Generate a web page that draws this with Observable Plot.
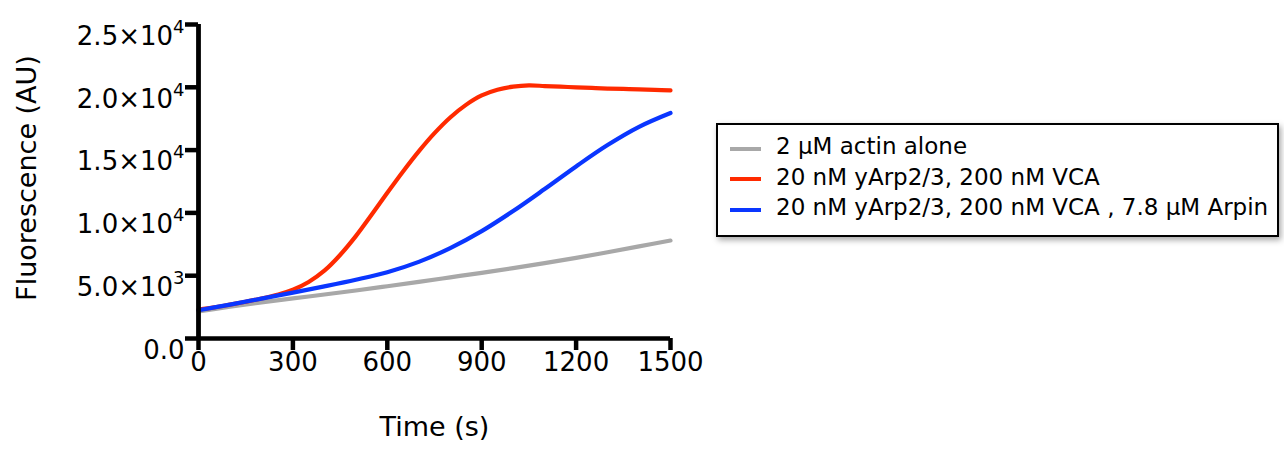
<!DOCTYPE html>
<html>
<head>
<meta charset="utf-8">
<script src="https://cdn.jsdelivr.net/npm/d3@7"></script>
<script src="https://cdn.jsdelivr.net/npm/@observablehq/plot@0.6"></script>
<style>
  html, body { margin: 0; padding: 0; background: #fff; }
  #wrap { position: relative; width: 1284px; height: 452px; font-family: "DejaVu Sans", sans-serif; }
  #legend { position: absolute; left: 716px; top: 123px; width: 563px; height: 114px; box-sizing: border-box;
            border: 2px solid #000; background: #fff; box-shadow: 2px 3px 6px rgba(0,0,0,0.35); }
  .sw { position: absolute; left: 12px; width: 31px; height: 4px; }
  .lt { position: absolute; left: 58px; font-size: 23px; line-height: 30px; white-space: nowrap; color: #000; }
</style>
</head>
<body>
<div id="wrap"></div>
<script>
// ---- data ----
const times100 = [0,100,200,300,400,500,600,700,800,900,1000,1100,1200,1300,1400,1500];
const times50 = [0,50,100,150,200,250,300,350,400,450,500,550,600,650,700,750,800,850,900,950,1000,1050,1100,1150,1200,1250,1300,1350,1400,1450,1500];
const actinAlone = [2150,2530,2870,3190,3500,3820,4160,4510,4870,5230,5600,6000,6420,6870,7330,7800];
const arpVCA = [2300,2480,2700,2930,3180,3480,3880,4500,5400,6650,8150,9850,11600,13300,14900,16350,17600,18600,19350,19800,20050,20150,20100,20050,20000,19950,19900,19870,19830,19790,19750];
const arpVCAArpin = [2250,2700,3170,3650,4150,4680,5280,6100,7200,8550,10150,11900,13700,15400,16850,17950];

const seriesNames = ["2 μM actin alone", "20 nM yArp2/3, 200 nM VCA", "20 nM yArp2/3, 200 nM VCA , 7.8 μM Arpin"];
const seriesColors = ["#a8a8a8", "#ff2a00", "#0a36ff"];
const seriesValues = [actinAlone, arpVCA, arpVCAArpin];
const seriesTimes = [times100, times50, times100];

const xTicks = [0,300,600,900,1200,1500];
const yTicks = [0,5000,10000,15000,20000,25000];
const yTickLabels = ["0.0","5.0×10^3","1.0×10^4","1.5×10^4","2.0×10^4","2.5×10^4"];
const xLabel = "Time (s)";
const yLabel = "Fluorescence (AU)";

// ---- table ----
const table = [];
seriesValues.forEach((vals, si) => {
  vals.forEach((v, i) => table.push({series: seriesNames[si], t: seriesTimes[si][i], v}));
});

const chart = Plot.plot({
  width: 1284,
  height: 452,
  marginLeft: 198,
  marginRight: 614,
  marginTop: 24,
  marginBottom: 114,
  style: {fontFamily: "DejaVu Sans, sans-serif", background: "white", color: "black"},
  x: {domain: [0, 1500]},
  y: {domain: [0, 25000]},
  color: {domain: seriesNames, range: seriesColors},
  marks: [
    Plot.line(table, {x: "t", y: "v", stroke: "series", z: "series", curve: "catmull-rom", strokeWidth: 4.2}),
    Plot.ruleY([0], {stroke: "black", strokeWidth: 4.5}),
    Plot.ruleX([0], {stroke: "black", strokeWidth: 4.8}),
    Plot.axisX(xTicks, {tickSize: 12, tickPadding: 2, strokeWidth: 4.5, fontSize: 26, label: null, tickFormat: d => String(d)}),
    Plot.axisY(yTicks, {tickSize: 13, tickPadding: 1, strokeWidth: 4.5, fontSize: 26, label: null,
      tickFormat: d => yTickLabels[yTicks.indexOf(d)]}),
    Plot.text([xLabel], {frameAnchor: "bottom", text: d => d, textAnchor: "middle", lineAnchor: "middle", fontSize: 27, dy: 88.4}),
    Plot.text([yLabel], {frameAnchor: "left", text: d => d, textAnchor: "middle", lineAnchor: "middle", rotate: -90, fontSize: 27, dx: -171, dy: -3.5})
  ]
});

// superscripts for the y tick labels
const NS = "http://www.w3.org/2000/svg";
chart.querySelectorAll('g[aria-label="y-axis tick label"] text').forEach(t => {
  const parts = t.textContent.split("^");
  if (parts.length > 1) {
    t.textContent = parts[0];
    const ts = document.createElementNS(NS, "tspan");
    ts.setAttribute("dy", "-12");
    ts.setAttribute("font-size", "18");
    ts.textContent = parts[1];
    t.appendChild(ts);
  }
  t.setAttribute("dy", "0.46em");
});

const wrap = document.getElementById("wrap");
wrap.appendChild(chart);

// legend
const legend = document.createElement("div");
legend.id = "legend";
const rowSwatchTop = [22, 52, 83];
const rowTextTop = [6.1, 37.1, 67.1];
seriesNames.forEach((name, i) => {
  const sw = document.createElement("div");
  sw.className = "sw";
  sw.style.top = rowSwatchTop[i] + "px";
  sw.style.background = seriesColors[i];
  legend.appendChild(sw);
  const lt = document.createElement("div");
  lt.className = "lt";
  lt.style.top = rowTextTop[i] + "px";
  lt.textContent = name;
  legend.appendChild(lt);
});
wrap.appendChild(legend);
</script>
</body>
</html>
